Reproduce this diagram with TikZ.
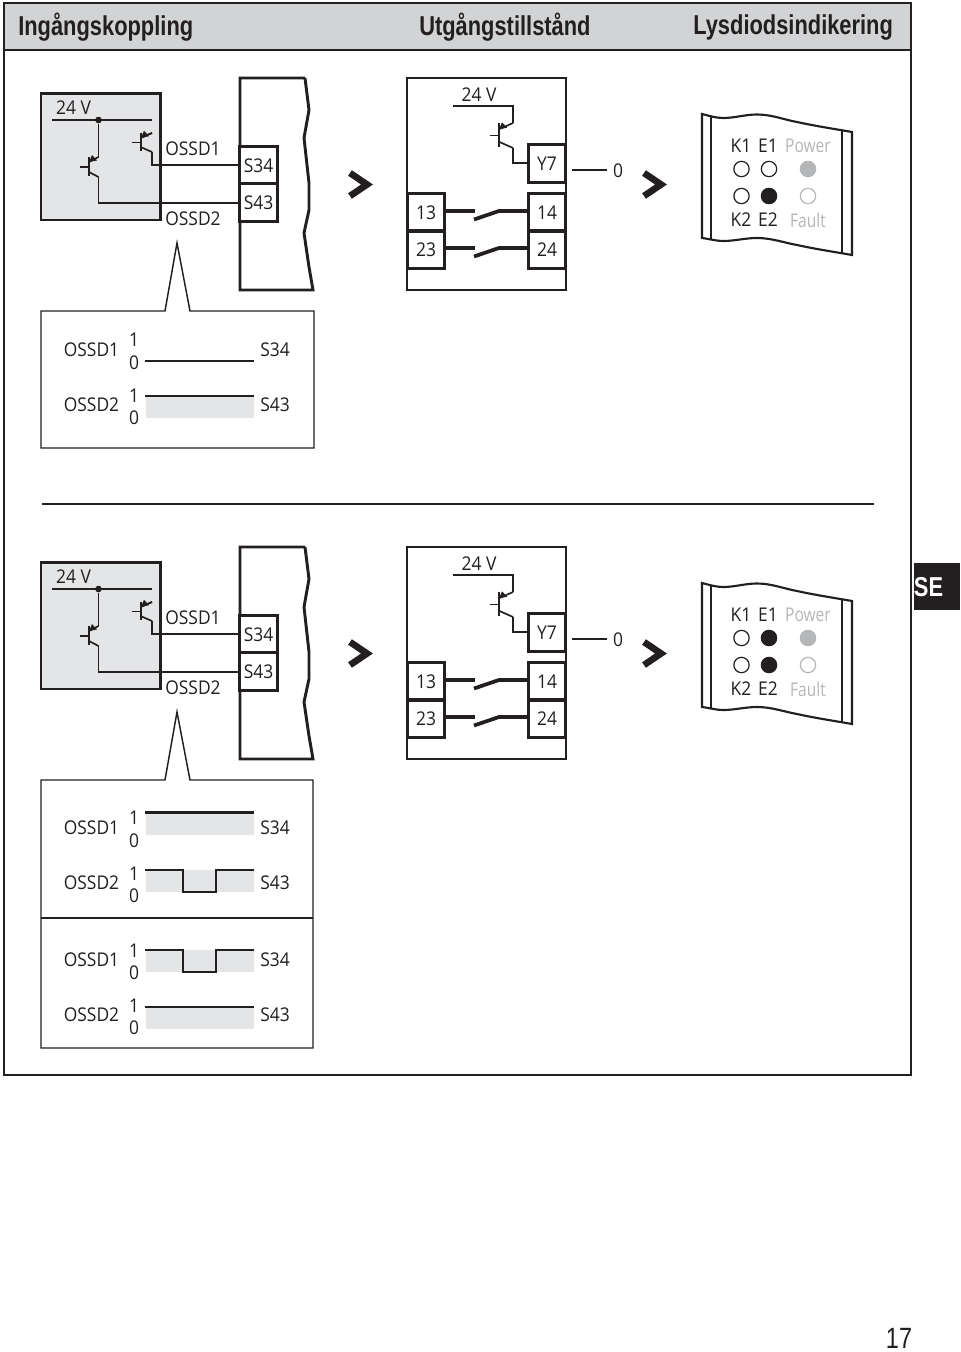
\documentclass[tikz,border=0pt]{standalone}
\usepackage{fontspec}
\setmainfont{Open Sans}[FakeStretch=0.92]
\newfontfamily\narrowfont{Open Sans}[FakeStretch=0.82]
\newfontfamily\headfont{Liberation Sans}[FakeStretch=0.8,BoldFont={Liberation Sans Bold}]
\usetikzlibrary{calc}
\definecolor{ink}{HTML}{231F20}
\definecolor{panel}{HTML}{E4E5E6}
\definecolor{headgray}{HTML}{D1D3D4}
\definecolor{ledgray}{HTML}{B5B6B8}
\tikzset{
 x=0.75pt,y=-0.75pt,
 lbl/.style={inner sep=0,text=ink,font=\fontsize{14.2}{16}\selectfont},
 glbl/.style={inner sep=0,text=ledgray,font=\narrowfont\fontsize{14.2}{16}\selectfont},
 head/.style={inner sep=0,text=ink,font=\headfont\bfseries\fontsize{20.5}{24}\selectfont},
 term/.style={draw=ink,line width=2.2pt,minimum width=28pt,minimum height=28pt,inner sep=0,text=ink,font=\fontsize{14.2}{16}\selectfont},
 wire/.style={draw=ink,line width=1.25pt},
 thin wire/.style={draw=ink,line width=1pt},
 contact/.style={draw=ink,line width=2.8pt},
 heavy/.style={draw=ink,line width=2.2pt},
 frame/.style={draw=ink,line width=1.1pt},
 sig/.style={draw=ink,line width=2.1pt},
 chev/.style={draw=ink,line width=5pt,miter limit=10},
 led/.style={circle,draw=ink,line width=0.9pt,minimum size=11.5pt,inner sep=0},
}
% transistor: #1 prefix, (#2,#3) upper right corner, #4 bar offset, #5 height
\newcommand{\transistor}[5]{%
 \coordinate (#1e) at (#2,#3);
 \coordinate (#1b) at (#2-#4,#3+0.25*#5);
 \coordinate (#1c) at (#2,#3+#5);
 \draw[wire] (#1e) -- (#1b);
 \draw[thin wire] (#2-#4,#3) -- (#2-#4,#3+0.95*#5);
 \draw[wire] (#2-#4-9.5,#3+0.5*#5) -- (#2-#4,#3+0.5*#5);
 \draw[wire] (#2-#4,#3+0.75*#5) -- (#1c);
 \fill[ink] (#1b) -- ($(#1b)+(8,-1.5)$) -- ($(#1b)+(3,-7)$) -- cycle;
}
\newcommand{\block}[2]{% #1 prefix, #2 E1 fill
 \draw[fill=panel,draw=ink,line width=2.2pt] (41,93.5) rectangle (160.5,220);
 \node[lbl] (#1v) at (73.5,108) {24 V};
 \coordinate (#1ra) at (52,120);
 \coordinate (#1rb) at (152,120);
 \node[circle,fill=ink,minimum size=5pt,inner sep=0] (#1dot) at (98.5,120) {};
 \draw[wire] (#1ra) -- (#1rb);
 \transistor{#1l}{98.5}{157}{9.5}{20}
 \transistor{#1r}{152}{133}{11}{19}
 \draw[wire] (#1dot) -- (#1le);
 \draw[wire] (#1rb) -- (#1re);
 \draw[heavy] (305,78) -- (240,78) -- (240,290) -- (313,290) -- (309,267) -- (304,233) -- (309,210) -- (309,183) -- (304,138) -- (309,110) -- (305,78);
 \node[term,fill=white] (#1sa) at (258.5,165.5) {S34};
 \node[term,fill=white] (#1sb) at (258.5,202.5) {S43};
 \draw[wire] (#1rc) -- (152,165) -- (#1sa.west |- 0,165);
 \draw[wire] (#1lc) -- (98.5,203) -- (#1sb.west |- 0,203);
 \node[lbl] (#1oa) at (193,149) {OSSD1};
 \node[lbl] (#1ob) at (193,219) {OSSD2};
 \draw[chev] (350,173) -- (367,184.5) -- (350,196);
 \draw[heavy] (407,78) rectangle (566,290);
 \node[term] (#1y) at (547,163.5) {Y7};
 \node[term] (#1t) at (426,212.5) {13};
 \node[term] (#1u) at (426,249.5) {23};
 \node[term] (#1f) at (547,212.5) {14};
 \node[term] (#1g) at (547,249.5) {24};
 \node[lbl] (#1w) at (479,95) {24 V};
 \coordinate (#1wa) at (453,106);
 \coordinate (#1wb) at (513,106);
 \draw[wire] (#1wa) -- (#1wb) -- (513,123);
 \transistor{#1q}{513}{123}{14}{25}
 \draw[wire] (#1qc) -- (513,163) -- (#1y.west |- 0,163);
 \draw[contact] (#1t.east |- 0,211) -- (475,211);
 \draw[contact] (#1f.west |- 0,211) -- (499,211) -- (474,219.5);
 \draw[contact] (#1u.east |- 0,248) -- (475,248);
 \draw[contact] (#1g.west |- 0,248) -- (499,248) -- (474,256.5);
 \coordinate (#1za) at (572,170);
 \node[lbl] (#1z) at (618,171) {0};
 \draw[sig] (#1za) -- (607,170);
 \draw[chev] (644,173) -- (661,184.5) -- (644,196);
 \draw[draw=ink,line width=1.6pt] (702,114) .. controls (710,116) and (716,118) .. (723,118) .. controls (735,118) and (745,114.5) .. (757,114.5) .. controls (772,114.5) and (785,120) .. (797,122) .. controls (815,126) and (835,129) .. (852,132) -- (852,255) .. controls (835,252) and (815,249) .. (797,245) .. controls (785,243) and (772,238) .. (757,238) .. controls (745,238) and (735,241) .. (723,241) .. controls (716,241) and (710,239) .. (702,238) -- cycle;
 \draw[draw=ink,line width=1.1pt] (711,116.5) -- (711,239.5);
 \draw[draw=ink,line width=1.1pt] (842,130) -- (842,253);
 \node[lbl] at (741,146) {K1};
 \node[lbl] at (768,146) {E1};
 \node[glbl] at (808,146) {Power};
 \node[lbl] at (741,220) {K2};
 \node[lbl] at (768,220) {E2};
 \node[glbl] at (808,220) {Fault};
 \node[led] at (741.5,169) {};
 \node[led,fill=#2] at (769,169) {};
 \node[led,draw=ledgray,fill=ledgray] at (808,169) {};
 \node[led] at (741.5,196) {};
 \node[led,fill=ink] at (769,196) {};
 \node[led,draw=ledgray] at (808,196) {};
}
\newcommand{\steady}[1]{%
 \fill[panel] (146,#1) rectangle (254,#1+22);
 \draw[sig] (145,#1) -- (254,#1);
}
\newcommand{\dip}[1]{%
 \fill[panel] (146,#1) rectangle (254,#1+22);
 \draw[sig] (145,#1) -- (183,#1) -- (183,#1+22) -- (216,#1+22) -- (216,#1) -- (254,#1);
}
\begin{document}
\begin{tikzpicture}
\useasboundingbox (0,0) rectangle (960,1352);
\fill[white] (0,0) rectangle (960,1352);
\fill[headgray] (4,3) rectangle (911,50);
\draw[draw=ink,line width=1.1pt] (4,50) -- (911,50);
\draw[draw=ink,line width=2.2pt] (4,3) rectangle (911,1075);
\node[head,anchor=west] (h1) at (18,27.5) {Ingångskoppling};
\node[head,anchor=west] (h2) at (419,27.5) {Utgångstillstånd};
\node[head,anchor=west] (h3) at (693,27.5) {Lysdiodsindikering};
\block{a}{white}
\draw[frame,fill=white] (41,311) -- (165,311) -- (177,243) -- (190,311) -- (314,311) -- (314,448) -- (41,448) -- cycle;
\node[lbl] at (91.5,350) {OSSD1};
\node[lbl] at (134,340) {1};
\node[lbl] at (134,363) {0};
\node[lbl] at (275,350) {S34};
\draw[sig] (145,361) -- (254,361);
\node[lbl] at (91.5,405) {OSSD2};
\node[lbl] at (134,396) {1};
\node[lbl] at (134,418) {0};
\node[lbl] at (275,405) {S43};
\steady{396}
\draw[draw=ink,line width=1.4pt] (42,504) -- (874,504);
\begin{scope}[shift={(0,469)}]
\block{b}{ink}
\end{scope}
\draw[frame,fill=white] (41,780) -- (165,780) -- (177,712) -- (190,780) -- (313,780) -- (313,1048) -- (41,1048) -- cycle;
\draw[frame] (41,918) -- (313,918);
\node[lbl] at (91.5,828) {OSSD1};
\node[lbl] at (134,818) {1};
\node[lbl] at (134,841) {0};
\node[lbl] at (275,828) {S34};
\steady{812.5}
\node[lbl] at (91.5,883) {OSSD2};
\node[lbl] at (134,874) {1};
\node[lbl] at (134,896) {0};
\node[lbl] at (275,883) {S43};
\dip{870}
\node[lbl] at (91.5,960) {OSSD1};
\node[lbl] at (134,951) {1};
\node[lbl] at (134,973) {0};
\node[lbl] at (275,960) {S34};
\dip{950}
\node[lbl] at (91.5,1015) {OSSD2};
\node[lbl] at (134,1006) {1};
\node[lbl] at (134,1028) {0};
\node[lbl] at (275,1015) {S43};
\steady{1007}
\fill[ink] (914,563) rectangle (960,610);
\node[inner sep=0,text=white,font=\headfont\bfseries\fontsize{20.5}{24}\selectfont] (se) at (928.5,587) {SE};
\node[inner sep=0,text=ink,font=\headfont\fontsize{22}{24}\selectfont] (pg) at (899,1338) {17};
\end{tikzpicture}
\end{document}
